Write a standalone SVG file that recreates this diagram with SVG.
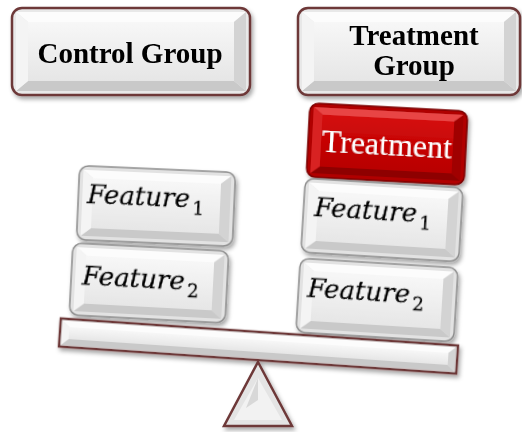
<svg xmlns="http://www.w3.org/2000/svg" width="522" height="432" viewBox="0 0 522 432">
<defs>
<filter id="sh" x="-20%" y="-20%" width="140%" height="150%">
<feDropShadow dx="2" dy="3" stdDeviation="2.2" flood-color="#000" flood-opacity="0.35"/>
</filter>
<linearGradient id="gface" x1="0" y1="0" x2="0" y2="1">
<stop offset="0" stop-color="#f7f7f7"/><stop offset="1" stop-color="#e6e6e6"/>
</linearGradient>
<linearGradient id="rface" x1="0" y1="0" x2="0" y2="1">
<stop offset="0" stop-color="#d40a0a"/><stop offset="1" stop-color="#b80000"/>
</linearGradient>
</defs>
<style>
.out{fill:#e2e2e2;stroke:#8d8d8d;stroke-width:1.5}
.gout{fill:#e8e8e8;stroke:#6d3838;stroke-width:2.5}
.bt{fill:#fcfcfc}.bb{fill:#c9c9c9}.bl{fill:#f4f4f4}.br{fill:#d3d3d3}
.face{fill:url(#gface)}
.rout{fill:#b00000;stroke:#7a0000;stroke-width:1.5}
.rbt{fill:#e84444}.rbb{fill:#8e0000}.rbl{fill:#d82020}.rbr{fill:#a00000}
.rface{fill:url(#rface)}
.gt{font-family:"Liberation Serif","Times New Roman",serif;font-weight:bold;font-size:29px;fill:#000;text-anchor:middle}
.ft{font-family:"DejaVu Serif",serif;font-style:italic;font-size:26px;fill:#000;stroke:#000;stroke-width:0.45}
.sub{font-size:18px;font-style:normal}
.tt{font-family:"Liberation Serif","Times New Roman",serif;font-size:32px;fill:#fff;text-anchor:middle}
</style>

<g id="control-group" filter="url(#sh)">
<rect class="gout" x="12" y="8" width="238" height="87" rx="10"/>
<polygon class="bt" points="16,12 246,12 234,22 28,22"/>
<polygon class="bb" points="16,91 246,91 234,81 28,81"/>
<polygon class="bl" points="16,12 28,22 28,81 16,91"/>
<polygon class="br" points="246,12 234,22 234,81 246,91"/>
<rect class="face" x="28" y="22" width="206" height="59"/>
<text class="gt" x="130" y="63">Control Group</text>
</g>

<g id="treatment-group" filter="url(#sh)">
<rect class="gout" x="298" y="8" width="222" height="87" rx="10"/>
<polygon class="bt" points="302,12 516,12 504,22 314,22"/>
<polygon class="bb" points="302,91 516,91 504,81 314,81"/>
<polygon class="bl" points="302,12 314,22 314,81 302,91"/>
<polygon class="br" points="516,12 504,22 504,81 516,91"/>
<rect class="face" x="314" y="22" width="190" height="59"/>
<text class="gt" x="414" y="45">Treatment</text>
<text class="gt" x="414" y="75">Group</text>
</g>

<g id="treatment" filter="url(#sh)" transform="translate(387,144) rotate(3)">
<rect class="rout" x="-79" y="-37" width="158" height="74" rx="9"/>
<polygon class="rbt" points="-75,-33 75,-33 66,-26 -66,-26"/>
<polygon class="rbb" points="-75,33 75,33 66,26 -66,26"/>
<polygon class="rbl" points="-75,-33 -66,-26 -66,26 -75,33"/>
<polygon class="rbr" points="75,-33 66,-26 66,26 75,33"/>
<rect class="rface" x="-66" y="-26" width="132" height="52"/>
<text class="tt" x="0" y="11">Treatment</text>
</g>

<g id="control-feature1" filter="url(#sh)" transform="translate(156,206) rotate(2.5)">
<rect class="out" x="-78" y="-37" width="156" height="74" rx="9"/>
<polygon class="bt" points="-74,-33 74,-33 64,-25 -64,-25"/>
<polygon class="bb" points="-74,33 74,33 64,25 -64,25"/>
<polygon class="bl" points="-74,-33 -64,-25 -64,25 -74,33"/>
<polygon class="br" points="74,-33 64,-25 64,25 74,33"/>
<rect class="face" x="-64" y="-25" width="128" height="50"/>
<text class="ft" x="-69" y="0">Feature<tspan class="sub" dx="3" dy="7">1</tspan></text>
</g>

<g id="control-feature2" filter="url(#sh)" transform="translate(149,283) rotate(3)">
<rect class="out" x="-78" y="-36" width="156" height="72" rx="9"/>
<polygon class="bt" points="-74,-32 74,-32 64,-24 -64,-24"/>
<polygon class="bb" points="-74,32 74,32 64,24 -64,24"/>
<polygon class="bl" points="-74,-32 -64,-24 -64,24 -74,32"/>
<polygon class="br" points="74,-32 64,-24 64,24 74,32"/>
<rect class="face" x="-64" y="-24" width="128" height="48"/>
<text class="ft" x="-67" y="5">Feature<tspan class="sub" dx="3" dy="7">2</tspan></text>
</g>

<g id="treatment-feature1" filter="url(#sh)" transform="translate(382,220) rotate(3.5)">
<rect class="out" x="-79" y="-37" width="158" height="74" rx="9"/>
<polygon class="bt" points="-75,-33 75,-33 65,-25 -65,-25"/>
<polygon class="bb" points="-75,33 75,33 65,25 -65,25"/>
<polygon class="bl" points="-75,-33 -65,-25 -65,25 -75,33"/>
<polygon class="br" points="75,-33 65,-25 65,25 75,33"/>
<rect class="face" x="-65" y="-25" width="130" height="50"/>
<text class="ft" x="-68" y="0">Feature<tspan class="sub" dx="3" dy="7">1</tspan></text>
</g>

<g id="treatment-feature2" filter="url(#sh)" transform="translate(377,300) rotate(3.5)">
<rect class="out" x="-79" y="-37" width="158" height="74" rx="9"/>
<polygon class="bt" points="-75,-33 75,-33 65,-25 -65,-25"/>
<polygon class="bb" points="-75,33 75,33 65,25 -65,25"/>
<polygon class="bl" points="-75,-33 -65,-25 -65,25 -75,33"/>
<polygon class="br" points="75,-33 65,-25 65,25 75,33"/>
<rect class="face" x="-65" y="-25" width="130" height="50"/>
<text class="ft" x="-70" y="1">Feature<tspan class="sub" dx="3" dy="7">2</tspan></text>
</g>

<g id="beam" filter="url(#sh)" transform="translate(258.5,346) rotate(3.9)">
<rect class="gout" x="-199" y="-14" width="398" height="28"/>
<polygon class="bt" points="-197,-12 197,-12 190,-6 -190,-6"/>
<polygon class="bb" points="-197,12 197,12 190,6 -190,6"/>
<polygon class="bl" points="-197,-12 -190,-6 -190,6 -197,12"/>
<polygon class="br" points="197,-12 190,-6 190,6 197,12"/>
<rect class="face" x="-190" y="-6" width="380" height="12"/>
</g>

<g id="fulcrum" filter="url(#sh)">
<polygon points="258,362 292,426 224,426" fill="#e4e4e4" stroke="#6d3838" stroke-width="2.5"/>
<polygon points="258,378 282,420 234,420" fill="#f2f2f2"/>
<polygon points="258,378 258,400 246,408" fill="#d8d8d8"/>
</g>
</svg>
